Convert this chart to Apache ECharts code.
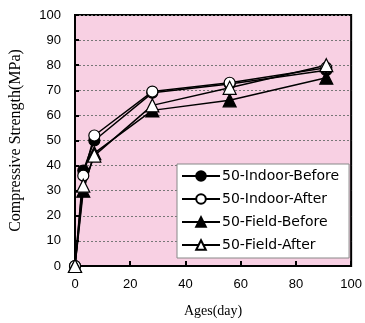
<!DOCTYPE html>
<html>
<head>
<meta charset="utf-8">
<script src="https://cdn.jsdelivr.net/npm/echarts@6/dist/echarts.min.js"></script>
<style>
  html, body { margin: 0; padding: 0; background: #fff; }
  #chart { width: 365px; height: 323px; }
</style>
</head>
<body>
<div id="chart"></div>
<script>
// 数据：龄期（天）与各组抗压强度
var AGES = [0, 3, 7, 28, 56, 91];
var INDOOR_BEFORE = [0, 38, 50, 69, 72.5, 78];
var INDOOR_AFTER = [0, 36, 52, 69.5, 73, 79];
var FIELD_BEFORE = [0, 30, 45, 62, 66, 75];
var FIELD_AFTER = [0, 32, 44, 64, 71, 80];
var SERIES_NAMES = ['50-Indoor-Before', '50-Indoor-After', '50-Field-Before', '50-Field-After'];

var TICK_FONT = 'Liberation Sans';
var LEGEND_FONT = 'DejaVu Sans';
var NAME_FONT = 'Liberation Serif';

function pairs(values) {
  return AGES.map(function(age, i) { return [age, values[i]]; });
}

function makeSeries(name, values, symbol, filled) {
  return {
    name: name,
    type: 'line',
    data: pairs(values),
    symbol: symbol,
    symbolSize: symbol === 'circle' ? 11 : 13,
    lineStyle: { color: '#000', width: 1.5 },
    itemStyle: { color: filled ? '#000' : '#fff', borderColor: '#000', borderWidth: 1.2 },
    emphasis: { disabled: true },
    z: 3
  };
}

var chart = echarts.init(document.getElementById('chart'), null, { renderer: 'canvas' });

chart.setOption({
  animation: false,
  backgroundColor: '#fff',
  grid: {
    left: 75, top: 15, right: 10, bottom: 56,
    show: true,
    backgroundColor: '#F8D0E3',
    borderColor: '#000',
    borderWidth: 2
  },
  legend: {
    data: SERIES_NAMES,
    orient: 'vertical',
    left: 177,
    top: 164,
    padding: [5, 10, 6, 4],
    itemGap: 9,
    itemWidth: 38,
    itemHeight: 12,
    backgroundColor: '#fff',
    borderColor: '#888',
    borderWidth: 1,
    textStyle: { fontFamily: LEGEND_FONT, fontSize: 14, color: '#000', padding: [0, 0, 0, -3] }
  },
  xAxis: {
    type: 'value',
    min: 0, max: 100, interval: 20,
    name: 'Ages(day)',
    nameLocation: 'middle',
    nameGap: 38,
    nameTextStyle: { fontFamily: NAME_FONT, fontSize: 14, color: '#000' },
    axisLine: { show: true, lineStyle: { color: '#000', width: 2 } },
    axisTick: { show: true, inside: true, length: 5, lineStyle: { color: '#000', width: 2 } },
    axisLabel: { fontFamily: TICK_FONT, fontSize: 13, color: '#000', margin: 12 },
    splitLine: { show: false }
  },
  yAxis: {
    type: 'value',
    min: 0, max: 100, interval: 10,
    name: 'Compressive Strength(MPa)',
    nameLocation: 'middle',
    nameGap: 51,
    nameTextStyle: { fontFamily: NAME_FONT, fontSize: 16, color: '#000' },
    axisLine: { show: true, lineStyle: { color: '#000', width: 2 } },
    axisTick: { show: true, inside: true, length: 4, lineStyle: { color: '#000', width: 2 } },
    axisLabel: { fontFamily: TICK_FONT, fontSize: 13, color: '#000', margin: 14 },
    splitLine: { show: true, lineStyle: { color: '#777', type: [2, 2], width: 1 } }
  },
  series: [
    makeSeries(SERIES_NAMES[0], INDOOR_BEFORE, 'circle', true),
    makeSeries(SERIES_NAMES[1], INDOOR_AFTER, 'circle', false),
    makeSeries(SERIES_NAMES[2], FIELD_BEFORE, 'triangle', true),
    makeSeries(SERIES_NAMES[3], FIELD_AFTER, 'triangle', false)
  ]
});
</script>
</body>
</html>
